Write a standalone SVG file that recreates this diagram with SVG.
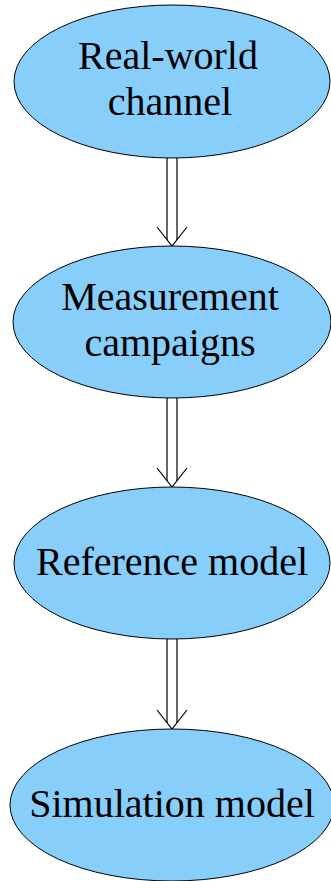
<svg xmlns="http://www.w3.org/2000/svg" width="331" height="881" viewBox="0 0 331 881">
  <style>
    .node ellipse { fill: #87CEFA; stroke: #000; stroke-width: 1; }
    .node text { font-family: "Liberation Serif", "Times New Roman", serif; font-size: 40px; fill: #000; text-anchor: middle; }
    .edge line, .edge polyline { stroke: #000; stroke-width: 1.2; fill: none; }
  </style>
  <rect width="331" height="881" fill="#fff"/>

  <!-- double-line "implies" connectors between consecutive stages -->
  <g id="connectors">
    <g class="edge">
      <line x1="167" y1="158" x2="167" y2="240"/>
      <line x1="177" y1="158" x2="177" y2="240"/>
      <polyline points="157,227 172,246 187,227"/>
    </g>
    <g class="edge">
      <line x1="167" y1="398" x2="167" y2="481"/>
      <line x1="177" y1="398" x2="177" y2="481"/>
      <polyline points="157,468 172,487 187,468"/>
    </g>
    <g class="edge">
      <line x1="167" y1="639" x2="167" y2="723"/>
      <line x1="177" y1="639" x2="177" y2="723"/>
      <polyline points="157,710 172,729 187,710"/>
    </g>
  </g>

  <g id="real-world-channel" class="node">
    <ellipse cx="172" cy="81.5" rx="158" ry="76.5"/>
    <text x="168" y="69">Real-world</text>
    <text x="170" y="115">channel</text>
  </g>

  <g id="measurement-campaigns" class="node">
    <ellipse cx="172" cy="322" rx="159" ry="76"/>
    <text x="170" y="310">Measurement</text>
    <text x="170" y="356">campaigns</text>
  </g>

  <g id="reference-model" class="node">
    <ellipse cx="172" cy="563" rx="158" ry="76"/>
    <text x="172" y="575">Reference model</text>
  </g>

  <g id="simulation-model" class="node">
    <ellipse cx="172" cy="805" rx="162" ry="76"/>
    <text x="172" y="817">Simulation model</text>
  </g>
</svg>
